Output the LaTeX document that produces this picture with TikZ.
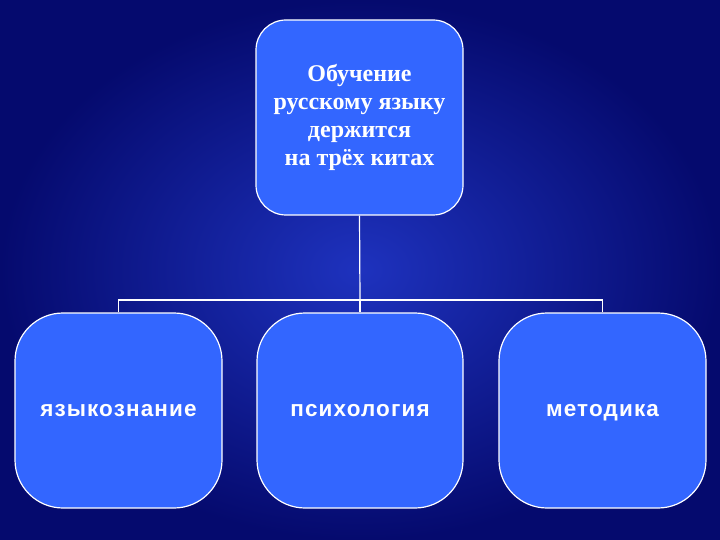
\documentclass[tikz,border=0pt]{standalone}
\usepackage{fontspec}
\setmainfont{Liberation Serif}
\newfontfamily\arialf[LetterSpace=5]{Liberation Sans}
\definecolor{boxblue}{RGB}{51,102,255}
\definecolor{bgdark}{RGB}{5,10,110}
\definecolor{bglight}{RGB}{30,50,190}
\begin{document}
\begin{tikzpicture}[x=1pt,y=-1pt,
  box/.style={draw=white,line width=1.2pt,fill=boxblue,rounded corners=48pt,text=white},
  lab/.style={font=\arialf\bfseries\fontsize{22.5}{26}\selectfont,text height=16pt,text depth=5pt},
  link/.style={draw=white,line width=1.2pt}]
\shade[inner color=bglight,outer color=bgdark] (0,0) rectangle (720,540);
\useasboundingbox (0,0) rectangle (720,540);
\node[box,rounded corners=30pt,minimum width=207pt,minimum height=195pt,align=center,font=\bfseries\fontsize{24}{28}\selectfont] (top) at (359.5,117.5) {Обучение\\русскому языку\\держится\\на трёх китах};
\node[box,lab,minimum width=207pt,minimum height=195pt] (a) at (118.5,410.5) {языкознание};
\node[box,lab,minimum width=206pt,minimum height=195pt] (b) at (360,410.5) {психология};
\node[box,lab,minimum width=207pt,minimum height=195pt] (c) at (602.5,410.5) {методика};
\coordinate (j) at (360,300);
\draw[link] (top.south) -- (j);
\draw[link] (j) -| (a.north);
\draw[link] (j) -- (b.north);
\draw[link] (j) -| (c.north);
\end{tikzpicture}
\end{document}
